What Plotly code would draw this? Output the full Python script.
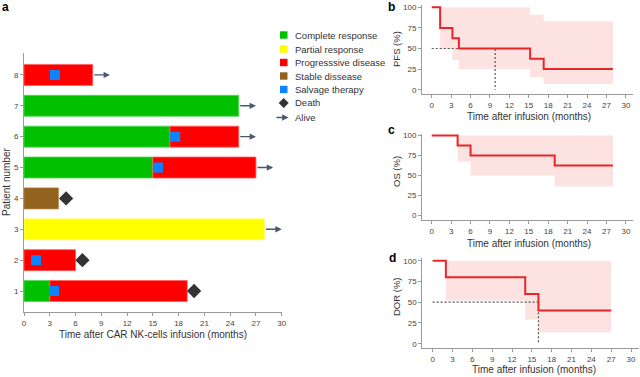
import plotly.graph_objects as go

# ---------------- data ----------------
# Panel a: swimmer plot segments
seg_patient = [1, 1, 2, 3, 4, 5, 5, 6, 6, 7, 8]
seg_response = ["CR", "PD", "PD", "PR", "SD", "CR", "PD", "CR", "PD", "CR", "PD"]
seg_start = [0, 3, 0, 0, 0, 0, 15, 0, 17, 0, 0]
seg_end = [3, 19, 6, 28, 4, 15, 27, 17, 25, 25, 8]

salvage_patient = [1, 2, 5, 6, 8]
salvage_time = [3.5, 1.4, 15.6, 17.6, 3.6]

death_patient = [1, 2, 4]
death_time = [19.8, 6.8, 4.9]

alive_patient = [3, 5, 6, 7, 8]
alive_start = [28, 27, 25, 25, 8]
alive_end = [30, 29, 27, 27, 10]

patient_ticks = [1, 2, 3, 4, 5, 6, 7, 8]
month_ticks = [0, 3, 6, 9, 12, 15, 18, 21, 24, 27, 30]
pct_ticks = [0, 25, 50, 75, 100]

# Panel b: PFS
pfs_t = [0, 1.3, 3.2, 4.2, 15.2, 17.3, 28]
pfs_s = [100, 75, 62.5, 50, 37.5, 25, 25]
pfs_ci_t = [1.3, 3.2, 4.2, 15.2, 17.3, 28]
pfs_ci_up = [100, 100, 100, 91, 83]
pfs_ci_lo = [49, 36, 25, 15, 7]
pfs_median = 9.8

# Panel c: OS
os_t = [0, 4, 6, 19, 28]
os_s = [100, 87.5, 75, 62.5, 62.5]
os_ci_t = [4, 6, 19, 28]
os_ci_up = [100, 100, 100]
os_ci_lo = [67.5, 50, 36]

# Panel d: DOR
dor_t = [0, 2, 14, 16, 27]
dor_s = [100, 80, 60, 40, 40]
dor_ci_t = [2, 14, 16, 27]
dor_ci_up = [100, 100, 100]
dor_ci_lo = [52, 29, 13.5]
dor_median = 16

# ---------------- styles ----------------
W, H = 640, 377
colors = {"CR": "#00c000", "PR": "#ffff00", "PD": "#ff0000", "SD": "#93621f"}
line_colors = {"CR": "#55d855", "PR": "#ffff80", "PD": "#ff6060", "SD": "#b08040"}
salvage_color = "#0a84ff"
death_color = "#333333"
arrow_color = "#4a5870"
km_color = "#e8262a"
band_color = "#fde2e2"
FONT = "Liberation Sans, Arial, sans-serif"


def px(x):
    return x / W


def py(y):
    return 1 - y / H


fig = go.Figure()

# swimmer bars
for resp in ["CR", "PR", "PD", "SD"]:
    idx = [i for i, r in enumerate(seg_response) if r == resp]
    fig.add_trace(go.Bar(
        orientation="h",
        y=[seg_patient[i] for i in idx],
        base=[seg_start[i] for i in idx],
        x=[seg_end[i] - seg_start[i] for i in idx],
        width=0.68,
        marker=dict(color=colors[resp], line=dict(color=line_colors[resp], width=0.8)),
        xaxis="x", yaxis="y", showlegend=False, hoverinfo="skip",
    ))

fig.add_trace(go.Scatter(
    x=salvage_time, y=salvage_patient, mode="markers",
    marker=dict(symbol="square", size=10, color=salvage_color),
    xaxis="x", yaxis="y", showlegend=False,
))
fig.add_trace(go.Scatter(
    x=death_time, y=death_patient, mode="markers",
    marker=dict(symbol="diamond", size=11, color=death_color),
    xaxis="x", yaxis="y", showlegend=False,
))

annotations = []
for p, s, e in zip(alive_patient, alive_start, alive_end):
    annotations.append(dict(
        x=e, y=p, ax=s, ay=p, xref="x", yref="y", axref="x", ayref="y",
        showarrow=True, arrowhead=2, arrowsize=0.9, arrowwidth=1.4,
        arrowcolor=arrow_color, text="", standoff=0, startstandoff=0,
    ))


def km_band(ts, up, lo):
    xs, ys = [], []
    for i in range(len(up)):
        xs += [ts[i], ts[i + 1]]
        ys += [up[i], up[i]]
    for i in reversed(range(len(lo))):
        xs += [ts[i + 1], ts[i]]
        ys += [lo[i], lo[i]]
    return xs, ys


def add_km(t, s, ci_t, ci_up, ci_lo, xa, ya, median=None):
    bx, by = km_band(ci_t, ci_up, ci_lo)
    fig.add_trace(go.Scatter(x=bx, y=by, fill="toself", fillcolor=band_color,
                             line=dict(width=0), mode="lines",
                             xaxis=xa, yaxis=ya, showlegend=False, hoverinfo="skip"))
    if median is not None:
        fig.add_trace(go.Scatter(x=[0, median, median], y=[50, 50, 0], mode="lines",
                                 line=dict(color="#555555", width=1.2, dash="2px,2px"),
                                 xaxis=xa, yaxis=ya, showlegend=False))
    fig.add_trace(go.Scatter(x=t, y=s, mode="lines", line_shape="hv",
                             line=dict(color=km_color, width=2),
                             xaxis=xa, yaxis=ya, showlegend=False))


add_km(pfs_t, pfs_s, pfs_ci_t, pfs_ci_up, pfs_ci_lo, "x2", "y2", pfs_median)
add_km(os_t, os_s, os_ci_t, os_ci_up, os_ci_lo, "x3", "y3")
add_km(dor_t, dor_s, dor_ci_t, dor_ci_up, dor_ci_lo, "x4", "y4", dor_median)

axis_common = dict(showline=True, linecolor="#9a9a9a", linewidth=1, ticks="outside",
                   ticklen=3, tickcolor="#9a9a9a", tickwidth=1, showgrid=False,
                   zeroline=False, automargin=False,
                   tickfont=dict(size=8, color="#444444", family=FONT))

layout_axes = dict(
    xaxis=dict(domain=[px(24), px(281.7)], range=[0, 30], tickvals=month_ticks,
               anchor="y", **axis_common),
    yaxis=dict(domain=[py(312), py(53)], range=[0.32, 8.71], tickvals=patient_ticks,
               anchor="x", **axis_common),
    xaxis2=dict(domain=[px(422), px(633)], range=[-1.5, 31.1], tickvals=month_ticks,
                anchor="y2", **axis_common),
    yaxis2=dict(domain=[py(94.3), py(5)], range=[-5.6, 102.8], tickvals=pct_ticks,
                anchor="x2", **axis_common),
    xaxis3=dict(domain=[px(422), px(633)], range=[-1.5, 31.1], tickvals=month_ticks,
                anchor="y3", **axis_common),
    yaxis3=dict(domain=[py(220), py(134)], range=[-6, 102], tickvals=pct_ticks,
                anchor="x3", **axis_common),
    xaxis4=dict(domain=[px(422.3), px(639)], range=[-1.56, 31.2], tickvals=month_ticks,
                anchor="y4", **axis_common),
    yaxis4=dict(domain=[py(348), py(258.3)], range=[-5.2, 102.9], tickvals=pct_ticks,
                anchor="x4", **axis_common),
)


def text_ann(x, y, text, size=10, color="#333333", xanchor="center", angle=0, bold=False):
    annotations.append(dict(
        x=px(x), y=py(y), xref="paper", yref="paper", text=f"<b>{text}</b>" if bold else text,
        showarrow=False, xanchor=xanchor, yanchor="middle", textangle=angle,
        font=dict(size=size, color=color, family=FONT),
    ))


# panel letters
text_ann(5, 7, "a", size=12, color="#000000", bold=True)
text_ann(391, 6.5, "b", size=12, color="#000000", bold=True)
text_ann(391, 130, "c", size=12, color="#000000", bold=True)
text_ann(392, 258, "d", size=12, color="#000000", bold=True)

# axis titles
text_ann(153, 334, "Time after CAR NK-cells infusion (months)", size=10)
text_ann(6, 182, "Patient number", size=10, angle=-90)
text_ann(529, 116.5, "Time after infusion (months)", size=10)
text_ann(529, 243, "Time after infusion (months)", size=10)
text_ann(534, 369, "Time after infusion (months)", size=10)
text_ann(396, 49, "PFS (%)", size=9.5, angle=-90)
text_ann(396, 172, "OS (%)", size=9.5, angle=-90)
text_ann(396, 297, "DOR (%)", size=9.5, angle=-90)

# manual legend
legend_labels = ["Complete response", "Partial response", "Progresssive disease",
                 "Stable dissease", "Salvage therapy", "Death", "Alive"]
legend_y = [35, 49, 62.5, 76, 89.5, 103, 117.5]
legend_sq_colors = [colors["CR"], colors["PR"], colors["PD"], colors["SD"], salvage_color]
shapes = []
for lab, yy in zip(legend_labels, legend_y):
    text_ann(292.5, yy, lab, size=9.5, xanchor="left")
for c, yy in zip(legend_sq_colors, legend_y[:5]):
    shapes.append(dict(type="rect", xref="paper", yref="paper",
                       x0=px(280), x1=px(287.5), y0=py(yy + 3.7), y1=py(yy - 3.7),
                       fillcolor=c, line=dict(width=0)))
cx, cy, r = 283.7, legend_y[5], 5
shapes.append(dict(type="path", xref="paper", yref="paper",
                   path=f"M {px(cx - r)} {py(cy)} L {px(cx)} {py(cy - r)} L {px(cx + r)} {py(cy)} L {px(cx)} {py(cy + r)} Z",
                   fillcolor=death_color, line=dict(width=0)))
annotations.append(dict(
    x=px(288.5), y=py(legend_y[6]), ax=-13.5, ay=0,
    xref="paper", yref="paper", axref="pixel", ayref="pixel",
    showarrow=True, arrowhead=2, arrowsize=0.9, arrowwidth=1.4,
    arrowcolor=arrow_color, text="", standoff=0, startstandoff=0,
))

fig.update_layout(
    width=W, height=H, margin=dict(l=0, r=0, t=0, b=0),
    paper_bgcolor="white", plot_bgcolor="white",
    barmode="overlay", showlegend=False,
    font=dict(family=FONT, color="#333333"),
    annotations=annotations, shapes=shapes,
    **layout_axes,
)

fig.write_html("out.html", config={"displayModeBar": False},
               post_script="document.body.style.margin='0';document.body.style.padding='0';")
